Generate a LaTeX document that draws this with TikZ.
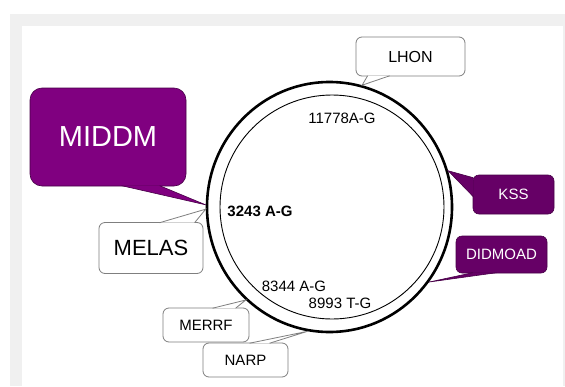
\documentclass[tikz,border=0pt]{standalone}
\usepackage{fontspec}
\setmainfont{Liberation Sans}
\usetikzlibrary{positioning, shapes.geometric}
\definecolor{panelgray}{HTML}{F0F0F0}
\definecolor{middmpurple}{HTML}{800080}
\definecolor{darkpurple}{HTML}{660066}
\definecolor{boxline}{HTML}{7F7F7F}
\tikzstyle{disease}=[rectangle, rounded corners=6pt, draw=boxline, fill=white, line width=0.8pt, inner sep=0pt]
\tikzstyle{syndrome}=[rectangle, rounded corners=6pt, draw=darkpurple!70!black, fill=darkpurple, text=white, line width=0.6pt, inner sep=0pt]
\tikzstyle{mutation}=[font=\fontsize{15}{18}\selectfont, inner sep=0pt]
\tikzstyle{lighttail}=[fill=white, draw=boxline, line width=0.8pt, line join=miter]
\tikzstyle{darktail}=[fill=darkpurple, draw=darkpurple!70!black, line width=0.6pt]

\begin{document}
\begin{tikzpicture}[x=1pt, y=-1pt]
      \useasboundingbox (0,0) rectangle (565,386);
      \fill[panelgray] (10,14) rectangle (565,386);
      \fill[white] (22,26) rectangle (563,386);

      % the genome ring
      \node[ellipse, draw, line width=2.6pt, minimum width=245pt, minimum height=250pt, inner sep=0pt] (ring) at (329.5,207) {};
      \node[circle, draw, line width=0.9pt, minimum size=224pt, inner sep=0pt] (inner) at (332,207) {};

      \node[mutation] (m11778) at (342,118) {11778A-G};
      \node[mutation, font=\fontsize{15}{18}\selectfont\bfseries] (m3243) at (260,211) {3243 A-G};
      \node[mutation] (m8344) at (294,286) {8344 A-G};
      \node[mutation] (m8993) at (340,303) {8993 T-G};

      % callouts
      \node[disease, minimum width=109pt, minimum height=39pt, font=\fontsize{16}{19}\selectfont] (lhon) at (410.5,56.5) {LHON};
      \node[syndrome, fill=middmpurple, minimum width=156pt, minimum height=98pt, rounded corners=12pt, font=\fontsize{29}{34}\selectfont] (middm) at (108,137) {MIDDM};
      \node[disease, minimum width=104pt, minimum height=51pt, font=\fontsize{22}{26}\selectfont] (melas) at (151,248) {MELAS};
      \node[syndrome, minimum width=81pt, minimum height=39pt, font=\fontsize{15}{18}\selectfont] (kss) at (513.5,194.5) {KSS};
      \node[syndrome, minimum width=91pt, minimum height=37pt, font=\fontsize{15}{18}\selectfont] (didmoad) at (501.5,254.5) {DIDMOAD};
      \node[disease, minimum width=86pt, minimum height=34pt, font=\fontsize{15}{18}\selectfont] (merrf) at (206,325) {MERRF};
      \node[disease, minimum width=85pt, minimum height=34pt, font=\fontsize{15}{18}\selectfont] (narp) at (245.5,360) {NARP};

      \filldraw[lighttail] ([xshift=12pt, yshift=0.6pt]lhon.south west) -- (ring.75) -- ([xshift=34pt, yshift=0.6pt]lhon.south west);
      \filldraw[darktail, fill=middmpurple] ([xshift=92pt, yshift=0.6pt]middm.south west) -- (ring.179) -- ([xshift=130pt, yshift=0.6pt]middm.south west);
      \filldraw[lighttail] ([xshift=61pt, yshift=-0.6pt]melas.north west) -- (ring.181) -- ([xshift=96pt, yshift=-0.6pt]melas.north west);
      \filldraw[darktail] ([xshift=0.6pt, yshift=-3pt]kss.north west) -- (ring.17) -- ([xshift=0.6pt, yshift=-22pt]kss.north west);
      \filldraw[darktail] ([xshift=17pt, yshift=0.6pt]didmoad.south west) -- (ring.323) -- ([xshift=41pt, yshift=0.6pt]didmoad.south west);
      \filldraw[lighttail] ([xshift=50pt, yshift=-0.6pt]merrf.north west) -- (ring.228) -- ([xshift=73pt, yshift=-0.6pt]merrf.north west);
      \filldraw[lighttail] ([xshift=47pt, yshift=-0.6pt]narp.north west) -- (ring.260) -- ([xshift=67pt, yshift=-0.6pt]narp.north west);
\end{tikzpicture}
\end{document}
